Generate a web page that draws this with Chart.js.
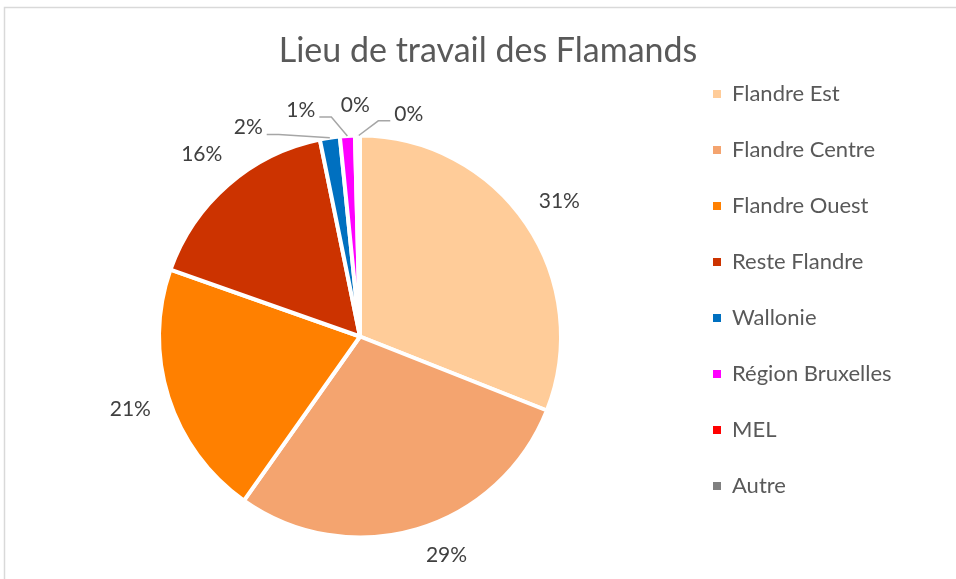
<!DOCTYPE html>
<html>
<head>
<meta charset="utf-8">
<script src="https://cdn.jsdelivr.net/npm/chart.js@4.4.1/dist/chart.umd.min.js"></script>
<style>
  html, body { margin: 0; padding: 0; background: #ffffff; }
  #wrap { width: 956px; height: 579px; position: relative; }
</style>
</head>
<body>
<div id="wrap"><canvas id="c"></canvas></div>
<script>
// ---- data ----
const categories = ['Flandre Est', 'Flandre Centre', 'Flandre Ouest', 'Reste Flandre', 'Wallonie', 'Région Bruxelles', 'MEL', 'Autre'];
const shares = [31.0, 28.8, 20.6, 16.4, 1.6, 1.2, 0.2, 0.2];
const sliceColors = ['#FFCC99', '#F4A46F', '#FF8000', '#CC3300', '#0070C0', '#FF00FF', '#FF0000', '#808080'];
const chartTitle = 'Lieu de travail des Flamands';

// ---- style ----
const FONT = 'Lato, "Open Sans", sans-serif';
const LEGEND_SLOT = 256;

const frame = {
  id: 'frame',
  beforeDraw(chart) {
    const ctx = chart.ctx;
    ctx.save();
    ctx.fillStyle = '#ffffff';
    ctx.fillRect(0, 0, chart.width, chart.height);
    ctx.strokeStyle = '#D9D9D9';
    ctx.lineWidth = 1.5;
    ctx.strokeRect(4.5, 7.5, chart.width + 20, chart.height + 20);
    ctx.restore();
  }
};

const legendSpacer = {
  id: 'legendSpacer',
  beforeInit(chart) {
    const box = {
      position: 'right', weight: 1500, fullSize: false, options: { display: false },
      top: 0, left: 0, right: 0, bottom: 0, width: 0, height: 0,
      isHorizontal() { return false; },
      update(maxWidth, maxHeight) {
        const lg = chart.legend;
        const lw = lg && lg.width ? lg.width : 0;
        this.width = Math.max(0, LEGEND_SLOT - lw);
        this.height = maxHeight;
      },
      draw() {}
    };
    Chart.layouts.addBox(chart, box);
  }
};

const pctLabels = {
  id: 'pctLabels',
  afterDatasetsDraw(chart) {
    const meta = chart.getDatasetMeta(0);
    const data = chart.data.datasets[0].data;
    const total = data.reduce((a, b) => a + b, 0);
    const ctx = chart.ctx;
    ctx.save();
    ctx.font = '21px ' + FONT;
    ctx.fillStyle = '#404040';
    ctx.textAlign = 'center';
    ctx.textBaseline = 'middle';
    const small = [];
    meta.data.forEach((arc, i) => {
      const p = arc.getProps(['x', 'y', 'startAngle', 'endAngle', 'outerRadius'], true);
      const frac = data[i] / total;
      const mid = (p.startAngle + p.endAngle) / 2;
      const text = Math.round(frac * 100) + '%';
      if (frac >= 0.03) {
        const lr = p.outerRadius + 40;
        let lx = p.x + lr * Math.cos(mid);
        let ly = p.y + lr * Math.sin(mid);
        const maxY = chart.height - 24;
        if (ly > maxY) {
          ly = maxY;
          const rr = p.outerRadius + 34;
          const dy = ly - p.y;
          lx = p.x + Math.sign(Math.cos(mid)) * Math.sqrt(Math.max(rr * rr - dy * dy, 0));
        }
        ctx.fillText(text, lx, ly);
      } else {
        small.push({ i, mid, text, p });
      }
    });
    // spread the small labels backward from the top of the circle
    const step = 13.5 * Math.PI / 180;
    const n = small.length;
    small.forEach((s, k) => {
      const ang = -Math.PI / 2 + 2 * Math.PI + step - (n - 1 - k) * step - 0.02;
      const lr = s.p.outerRadius + 36 - 3 * k;
      const lx = s.p.x + lr * Math.cos(ang);
      const ly = s.p.y + lr * Math.sin(ang);
      const ax = s.p.x + s.p.outerRadius * Math.cos(s.mid);
      const ay = s.p.y + s.p.outerRadius * Math.sin(s.mid);
      const w = ctx.measureText(s.text).width;
      ctx.fillText(s.text, lx, ly);
      if (Math.abs(lx - ax) >= 15) {
        ctx.beginPath();
        ctx.strokeStyle = '#A6A6A6';
        ctx.lineWidth = 1.5;
        if (lx < ax) {
          ctx.moveTo(lx + w / 2 + 4, ly + 7);
          ctx.lineTo(lx + w / 2 + 16, ly + 7);
          ctx.lineTo(ax, ay);
        } else {
          ctx.moveTo(ax, ay);
          ctx.lineTo(lx - w / 2 - 16, ly + 7);
          ctx.lineTo(lx - w / 2 - 4, ly + 7);
        }
        ctx.stroke();
      }
    });
    ctx.restore();
  }
};

new Chart(document.getElementById('c'), {
  type: 'pie',
  data: {
    labels: categories,
    datasets: [{
      data: shares,
      backgroundColor: sliceColors,
      borderColor: '#ffffff',
      borderWidth: 4,
      radius: 201,
      hoverOffset: 0
    }]
  },
  options: {
    responsive: true,
    maintainAspectRatio: false,
    animation: false,
    devicePixelRatio: 1,
    layout: { padding: { left: 41, right: 21, top: -1, bottom: -2 } },
    plugins: {
      title: {
        display: true,
        text: chartTitle,
        color: '#595959',
        font: { family: FONT, size: 34, weight: 'normal', lineHeight: 1.2 },
        padding: { top: 31.2, bottom: 23 }
      },
      legend: {
        position: 'right',
        align: 'center',
        fullSize: true,
        labels: {
          boxWidth: 8,
          boxHeight: 8,
          padding: 34,
          color: '#595959',
          font: { family: FONT, size: 22 },
          generateLabels: () => categories.map((t, i) => ({
            text: t, fillStyle: sliceColors[i], strokeStyle: sliceColors[i],
            lineWidth: 0, hidden: false, index: i, fontColor: '#595959'
          }))
        }
      },
      tooltip: { enabled: false }
    }
  },
  plugins: [frame, legendSpacer, pctLabels]
});
</script>
</body>
</html>
